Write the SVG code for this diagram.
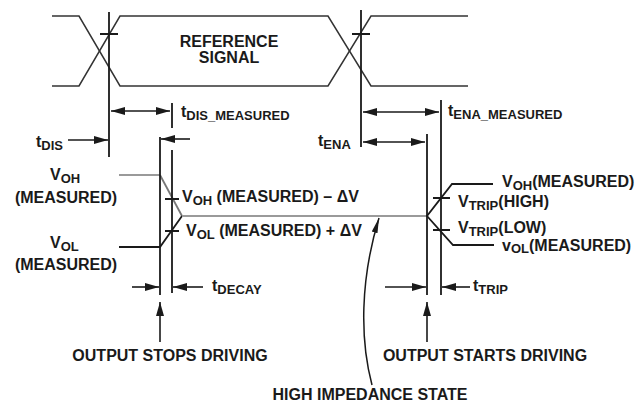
<svg xmlns="http://www.w3.org/2000/svg" width="644" height="402" viewBox="0 0 644 402">
<defs>
<style>
text { font-family: "Liberation Sans", Arial, sans-serif; font-weight: bold; font-size: 16px; fill: #1a1a1a; }
.sub { font-size: 13px; }
.ln { stroke: #1a1a1a; stroke-width: 1.8; fill: none; }
.sig { stroke: #333; stroke-width: 1.5; fill: none; }
.gray { stroke: #9a9a9a; stroke-width: 2; fill: none; }
.arr { stroke: #1a1a1a; stroke-width: 1.6; fill: none; }
.dim { marker-end: url(#ah); }
.dim2 { marker-start: url(#ah); marker-end: url(#ah); }
</style>
<marker id="ah" markerUnits="userSpaceOnUse" markerWidth="15" markerHeight="9" refX="14" refY="4.5" orient="auto-start-reverse" viewBox="0 0 15 9"><path d="M0,0.5 L14,4.5 L0,8.5 z" fill="#1a1a1a"/></marker>
<marker id="ahc" markerUnits="userSpaceOnUse" markerWidth="16" markerHeight="8" refX="15" refY="4" orient="auto" viewBox="0 0 16 8"><path d="M0,1 L15,4 L0,7 z" fill="#1a1a1a"/></marker>
</defs>

<g id="reference-signal">
<path class="sig" d="M52,16 H79 L120,86 H328 L371,16 H468"/>
<path class="sig" d="M52,86 H79 L120,16 H328 L371,86 H468"/>
<text x="229" y="47" text-anchor="middle">REFERENCE</text>
<text x="229" y="63" text-anchor="middle">SIGNAL</text>
</g>

<g id="output-waveform">
<path class="gray" d="M119,175 H160"/>
<path d="M160,175 L182,216" stroke="#777" stroke-width="1.8" fill="none"/>
<path class="ln" d="M119,247 H160 L182,216"/>
<path class="gray" d="M182,216 H427"/>
<path class="ln" d="M493,184 H452 L427,216 L453,245 H494"/>
<path class="ln" d="M165,199 H179 M165,231 H179 M433,198 H450 M433,230 H450"/>
</g>

<g id="connectors">
<path class="ln" d="M109,12 V157 M100,34 H118"/>
<path class="ln" d="M361,10 V147 M352,34 H370"/>
<path class="ln" d="M172,103 V128 M172,150 V293"/>
<path class="ln" d="M160,137 V295"/>
<path class="ln" d="M427,134 V295"/>
<path class="ln" d="M441,100 V295"/>
<path class="arr dim2" d="M111,111 H170"/>
<path class="arr dim" d="M68,140 H108"/>
<path class="arr dim" d="M190,139 H161"/>
<path class="arr dim2" d="M363,112 H439"/>
<path class="arr dim2" d="M363,142 H425"/>
<path class="arr dim" d="M132,287 H159"/>
<path class="arr dim" d="M203,287 H173"/>
<path class="arr dim" d="M385,287 H426"/>
<path class="arr dim" d="M470,287 H442"/>
<path class="arr dim" d="M160,342 V302"/>
<path class="arr dim" d="M427,342 V302"/>
<path d="M372,385 C360,340 360,280 379,218" stroke="#1a1a1a" stroke-width="1.5" fill="none" marker-end="url(#ahc)"/>
</g>

<g id="label-tdis"><text x="36" y="147">t<tspan class="sub" dy="3">DIS</tspan></text></g>
<g id="label-tdis-measured"><text x="181" y="117">t<tspan class="sub" dy="3">DIS_MEASURED</tspan></text></g>
<g id="label-tena"><text x="318" y="146">t<tspan class="sub" dy="3">ENA</tspan></text></g>
<g id="label-tena-measured"><text x="448" y="116">t<tspan class="sub" dy="3">ENA_MEASURED</tspan></text></g>

<g id="label-voh-left">
<text x="50" y="180">V<tspan class="sub" dy="3">OH</tspan></text>
<text x="66" y="203" text-anchor="middle">(MEASURED)</text>
</g>
<g id="label-vol-left">
<text x="50" y="248">V<tspan class="sub" dy="3">OL</tspan></text>
<text x="66" y="270" text-anchor="middle">(MEASURED)</text>
</g>

<g id="label-voh-dv"><text x="182" y="202">V<tspan class="sub" dy="3">OH</tspan><tspan dy="-3"> (MEASURED) – ΔV</tspan></text></g>
<g id="label-vol-dv"><text x="186" y="236">V<tspan class="sub" dy="3">OL</tspan><tspan dy="-3"> (MEASURED) + ΔV</tspan></text></g>

<g id="label-tdecay"><text x="212" y="291">t<tspan class="sub" dy="3">DECAY</tspan></text></g>
<g id="label-ttrip"><text x="473" y="291">t<tspan class="sub" dy="3">TRIP</tspan></text></g>

<g id="label-voh-right"><text x="502" y="187">V<tspan class="sub" dy="3">OH</tspan><tspan dy="-3">(MEASURED)</tspan></text></g>
<g id="label-vtrip-high"><text x="458" y="207">V<tspan class="sub" dy="3">TRIP</tspan><tspan dy="-3">(HIGH)</tspan></text></g>
<g id="label-vtrip-low"><text x="458" y="233">V<tspan class="sub" dy="3">TRIP</tspan><tspan dy="-3">(LOW)</tspan></text></g>
<g id="label-vol-right"><text x="502" y="251">v<tspan class="sub" dy="2">OL</tspan><tspan dy="-2">(MEASURED)</tspan></text></g>

<g id="label-output-stops"><text x="170" y="361" text-anchor="middle">OUTPUT STOPS DRIVING</text></g>
<g id="label-output-starts"><text x="485" y="361" text-anchor="middle">OUTPUT STARTS DRIVING</text></g>
<g id="label-high-z"><text x="370" y="400" text-anchor="middle">HIGH IMPEDANCE STATE</text></g>
</svg>
